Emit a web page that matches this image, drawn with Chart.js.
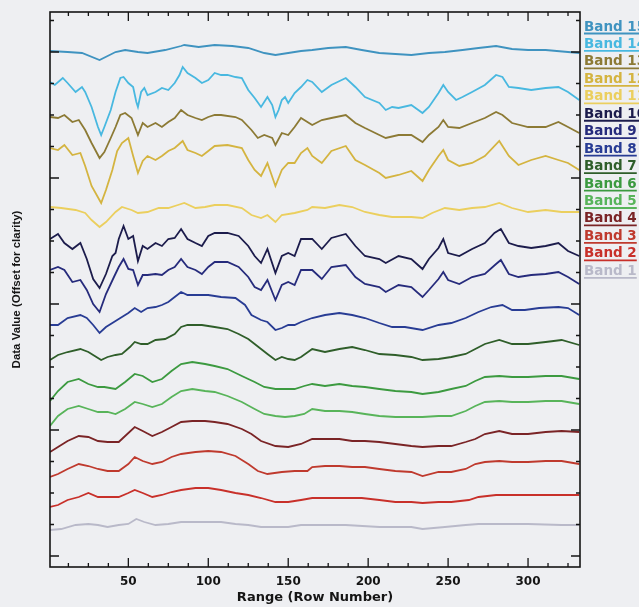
<!DOCTYPE html>
<html>
<head>
<meta charset="utf-8">
<script src="https://cdn.jsdelivr.net/npm/chart.js@4.4.1/dist/chart.umd.min.js"></script>
<style>
  html, body { margin: 0; padding: 0; background: #eeeff2; }
  #wrap { width: 639px; height: 607px; }
</style>
</head>
<body>
<div id="wrap"><canvas id="bandChart" width="639" height="607"></canvas></div>
<script>
// row number vs. data value (already offset per band)
const band1 = [[1,43],[8,44],[17,48],[25,49],[31,48],[37,46],[44,48],[50,49],[55,54],[60,51],[67,48],[75,49],[83,51],[92,51],[100,51],[108,51],[117,49],[125,48],[133,46],[142,46],[150,46],[158,48],[165,48],[186,48],[207,46],[227,46],[234,44],[248,46],[261,48],[269,49],[282,49],[300,49],[321,48],[332,48]];
const band2 = [[1,64],[6,66],[12,71],[19,74],[25,78],[31,74],[37,74],[44,74],[50,78],[54,81],[59,78],[65,74],[71,76],[77,79],[83,81],[92,83],[100,83],[108,81],[117,78],[125,76],[133,73],[142,69],[150,69],[158,71],[165,73],[175,73],[186,73],[196,73],[207,71],[217,69],[227,69],[234,68],[244,69],[252,69],[263,71],[269,74],[280,76],[290,76],[300,76],[311,76],[321,76],[332,76]];
const band3 = [[1,93],[6,96],[12,101],[19,106],[25,104],[31,101],[37,99],[44,99],[50,106],[54,113],[59,109],[65,106],[71,108],[77,113],[83,116],[92,118],[100,119],[108,118],[117,114],[125,106],[131,99],[137,96],[146,98],[154,99],[162,99],[165,103],[173,104],[182,104],[190,103],[198,103],[207,101],[217,99],[227,98],[234,94],[244,98],[252,98],[261,101],[267,106],[273,108],[282,109],[290,108],[300,108],[311,109],[321,109],[332,106]];
const band4 = [[1,118],[6,123],[12,129],[19,134],[25,133],[31,129],[37,128],[44,128],[48,134],[54,143],[59,139],[65,134],[71,138],[77,143],[83,148],[90,149],[98,149],[104,148],[112,146],[121,141],[127,136],[133,129],[142,124],[150,123],[158,126],[165,131],[173,131],[182,131],[190,129],[198,129],[207,128],[217,126],[227,124],[234,123],[244,124],[252,124],[261,128],[267,131],[273,136],[282,139],[290,136],[300,136],[311,138],[321,139],[332,138]];
const band5 = [[1,139],[6,149],[12,156],[19,159],[25,156],[31,153],[37,153],[42,151],[48,156],[54,163],[59,161],[65,158],[71,161],[77,168],[83,174],[90,176],[98,174],[104,173],[112,169],[121,163],[129,156],[135,151],[142,149],[148,148],[154,149],[160,151],[165,156],[173,154],[182,154],[190,153],[198,151],[207,149],[217,148],[227,148],[234,148],[244,149],[252,149],[261,154],[267,159],[273,163],[282,164],[290,163],[300,163],[311,164],[321,164],[332,161]];
const band6 = [[1,164],[6,174],[12,183],[19,186],[25,181],[31,178],[35,178],[42,176],[48,183],[54,191],[59,189],[65,183],[71,186],[77,194],[83,201],[90,203],[98,201],[104,199],[112,196],[121,189],[129,183],[135,178],[142,176],[148,176],[154,176],[160,179],[165,181],[173,179],[182,181],[190,179],[198,178],[207,176],[217,174],[227,173],[234,171],[244,173],[252,176],[261,179],[267,184],[273,188],[282,189],[290,188],[300,188],[311,189],[321,189],[332,186]];
const band7 = [[1,203],[6,208],[12,211],[20,214],[25,211],[30,206],[33,203],[37,206],[42,208],[46,209],[51,216],[54,221],[58,219],[62,219],[67,223],[73,224],[79,229],[83,236],[87,238],[96,238],[104,236],[112,234],[119,229],[125,224],[129,219],[133,214],[137,209],[142,203],[146,206],[150,204],[154,203],[158,206],[165,214],[173,211],[182,214],[190,216],[198,213],[207,209],[217,208],[227,206],[234,203],[244,204],[252,206],[261,209],[267,214],[273,219],[282,223],[290,219],[300,219],[311,221],[321,223],[332,218]];
const band8 = [[1,236],[6,236],[12,243],[20,246],[24,243],[28,236],[32,228],[36,234],[41,239],[45,243],[50,248],[54,253],[58,249],[62,253],[67,254],[71,256],[75,259],[79,264],[83,269],[87,266],[92,266],[100,266],[108,264],[117,263],[123,256],[127,246],[133,241],[137,239],[142,231],[146,233],[150,236],[154,236],[158,239],[165,243],[173,246],[182,248],[190,246],[198,243],[207,238],[215,234],[223,234],[234,231],[244,236],[252,238],[261,243],[269,249],[277,254],[284,256],[290,251],[298,251],[307,253],[319,254],[325,253],[332,246]];
const band9 = [[1,293],[6,296],[10,293],[15,281],[20,283],[24,273],[28,259],[32,251],[36,269],[41,286],[44,296],[47,304],[50,294],[53,293],[56,278],[59,288],[62,288],[67,289],[71,288],[75,293],[79,296],[83,304],[87,296],[92,293],[96,289],[100,296],[104,301],[112,301],[119,296],[125,286],[129,276],[133,273],[137,283],[142,263],[146,278],[150,281],[154,278],[158,293],[165,293],[171,284],[177,296],[186,298],[192,286],[198,279],[207,276],[211,271],[219,278],[227,276],[234,266],[238,273],[244,284],[247,291],[250,283],[257,279],[265,286],[273,289],[280,299],[283,303],[288,289],[294,286],[302,288],[311,289],[319,291],[325,286],[332,279]];
const band10 = [[1,323],[6,328],[10,319],[15,313],[20,319],[24,303],[28,283],[32,274],[36,288],[40,306],[42,309],[44,323],[47,336],[50,323],[53,326],[56,301],[59,316],[62,313],[67,319],[71,316],[75,323],[79,324],[83,333],[87,323],[92,319],[96,316],[100,326],[104,329],[112,329],[119,326],[125,316],[129,306],[133,299],[137,313],[142,289],[146,306],[150,309],[154,306],[158,323],[165,323],[171,313],[177,324],[186,328],[192,316],[198,306],[207,303],[211,299],[219,306],[227,303],[234,293],[238,303],[244,314],[247,323],[250,309],[257,306],[265,313],[273,319],[279,329],[283,333],[288,319],[294,316],[302,314],[311,316],[319,319],[325,311],[332,306]];
const band11 = [[1,354],[8,353],[17,351],[23,348],[27,341],[32,334],[36,339],[42,349],[46,354],[52,351],[56,348],[62,349],[69,353],[75,353],[81,356],[85,358],[92,353],[98,354],[104,356],[112,356],[121,353],[127,346],[133,343],[137,346],[142,339],[146,346],[154,348],[162,351],[165,354],[173,353],[182,356],[190,354],[198,349],[207,346],[215,344],[227,344],[234,343],[240,348],[248,353],[257,351],[265,353],[273,354],[282,358],[290,353],[300,349],[311,351],[321,349],[332,349]];
const band12 = [[1,411],[6,409],[10,414],[15,404],[20,406],[23,393],[27,373],[33,356],[36,369],[40,389],[43,408],[46,416],[50,421],[53,403],[56,386],[59,398],[62,403],[67,399],[71,403],[75,408],[79,411],[84,418],[87,409],[92,406],[96,403],[100,408],[104,413],[112,414],[121,411],[125,399],[129,389],[133,383],[137,396],[142,373],[146,389],[150,396],[154,396],[158,406],[162,411],[165,403],[171,396],[177,408],[186,413],[192,399],[198,394],[207,386],[211,381],[219,384],[227,388],[234,378],[238,389],[244,403],[247,409],[250,399],[257,393],[265,396],[273,403],[282,418],[288,403],[294,394],[302,399],[311,403],[319,399],[325,396],[332,389]];
const band13 = [[1,439],[6,438],[10,441],[15,434],[19,436],[23,426],[27,413],[32,398],[35,404],[39,418],[42,429],[45,441],[48,443],[52,438],[56,421],[59,433],[62,429],[67,433],[71,429],[75,434],[79,438],[83,446],[87,441],[92,438],[96,436],[100,439],[104,441],[108,441],[117,439],[121,436],[127,426],[131,418],[135,421],[140,418],[142,411],[146,423],[150,421],[154,429],[158,438],[165,431],[171,436],[177,438],[186,441],[192,433],[198,428],[207,421],[211,418],[219,421],[227,421],[234,414],[238,421],[244,429],[247,436],[250,429],[257,428],[265,433],[273,438],[280,444],[284,441],[290,433],[300,429],[311,429],[319,434],[325,429],[332,423]];
const band14 = [[1,474],[4,471],[9,478],[12,473],[17,464],[21,469],[23,464],[27,449],[31,429],[33,421],[35,429],[39,446],[42,464],[45,478],[47,479],[50,473],[53,469],[55,454],[56,449],[58,464],[60,468],[62,461],[67,464],[71,468],[75,466],[79,473],[82,481],[84,489],[87,483],[92,478],[96,473],[100,476],[104,483],[108,481],[112,481],[117,479],[121,478],[125,466],[129,458],[133,449],[137,459],[140,451],[142,439],[144,446],[146,456],[148,459],[150,453],[154,463],[158,469],[162,476],[165,474],[171,464],[177,471],[186,478],[192,469],[198,459],[207,453],[211,446],[215,449],[219,448],[227,451],[234,443],[238,449],[244,463],[247,471],[250,464],[255,456],[259,459],[265,464],[273,471],[280,481],[284,479],[288,469],[294,468],[302,466],[311,468],[319,469],[325,464],[332,456]];
const band15 = [[1,505],[12,504],[21,503],[32,496],[42,504],[48,506],[56,504],[62,503],[73,506],[83,510],[85,511],[94,509],[104,511],[115,510],[125,508],[135,503],[142,501],[150,503],[158,505],[165,506],[175,508],[186,509],[196,506],[207,503],[227,501],[238,503],[248,504],[259,506],[269,508],[280,510],[290,507],[300,506],[311,506],[325,504],[332,503]];

const bandSeries = [band1, band2, band3, band4, band5, band6, band7, band8, band9, band10, band11, band12, band13, band14, band15];
const bandNames = ['Band 1', 'Band 2', 'Band 3', 'Band 4', 'Band 5', 'Band 6', 'Band 7', 'Band 8', 'Band 9', 'Band 10', 'Band 11', 'Band 12', 'Band 13', 'Band 14', 'Band 15'];
const bandOffsets = [-17, -15, -14, -14, -9, -9, -7, -5, -7, -6, -5, -3, 0, 0, 0];
const bandColors = ['#b9b9c9', '#c8302a', '#bf3a2e', '#7a2426', '#58b45a', '#3c9a40', '#2f5e2a', '#283c94', '#262b7c', '#1c1c4c', '#ebcf5e', '#d4b440', '#8c7a35', '#48b8e0', '#3f93c0'];

const xTickValues = [50, 100, 150, 200, 250, 300];
const xTitle = 'Range (Row Number)';
const yTitle = 'Data Value (Offset for clarity)';

const bgColor = '#eeeff2';

// paint the page colour behind everything
const background = {
  id: 'background',
  beforeDraw(chart) {
    const ctx = chart.ctx;
    ctx.save();
    ctx.fillStyle = bgColor;
    ctx.fillRect(0, 0, chart.width, chart.height);
    ctx.restore();
  }
};

// box round the plot with inward ticks on all four sides
const frameTicks = {
  id: 'frameTicks',
  afterDatasetsDraw(chart) {
    const { ctx, chartArea: a, scales: { x, y } } = chart;
    ctx.save();
    ctx.strokeStyle = '#151515';
    ctx.lineWidth = 1.6;
    ctx.strokeRect(a.left, a.top, a.right - a.left, a.bottom - a.top);

    ctx.lineWidth = 1.3;
    ctx.beginPath();
    for (let i = 1; i * 12.5 <= x.max; i++) {
      const px = x.getPixelForValue(i * 12.5);
      const len = i % 4 === 0 ? 9 : 4;
      ctx.moveTo(px, a.bottom); ctx.lineTo(px, a.bottom - len);
      ctx.moveTo(px, a.top); ctx.lineTo(px, a.top + len);
    }
    for (let i = 0; i * 31.5 <= y.max; i++) {
      const py = y.getPixelForValue(i * 31.5);
      const len = i % 4 === 0 ? 9 : 4;
      ctx.moveTo(a.left, py); ctx.lineTo(a.left + len, py);
      ctx.moveTo(a.right, py); ctx.lineTo(a.right - len, py);
    }
    ctx.stroke();
    ctx.restore();
  }
};

// coloured, underlined band names to the right of the plot
const bandLegend = {
  id: 'bandLegend',
  afterDraw(chart) {
    const ctx = chart.ctx;
    const sets = chart.data.datasets;
    ctx.save();
    ctx.font = 'bold 13.5px "DejaVu Sans", sans-serif';
    ctx.textBaseline = 'alphabetic';
    sets.forEach((ds, i) => {
      const slot = sets.length - 1 - i;
      const yBase = 30.5 + slot * 17.45;
      const w = ctx.measureText(ds.label).width;
      ctx.fillStyle = ds.borderColor;
      ctx.fillText(ds.label, 584, yBase);
      ctx.strokeStyle = ds.borderColor;
      ctx.lineWidth = 1.8;
      ctx.beginPath();
      ctx.moveTo(584, yBase + 3);
      ctx.lineTo(584 + w, yBase + 3);
      ctx.stroke();
    });
    ctx.restore();
  }
};

const datasets = bandSeries.map((pts, i) => ({
  label: bandNames[i],
  data: pts.map(p => ({ x: p[0], y: p[1] + bandOffsets[i] })),
  borderColor: bandColors[i],
  borderWidth: 1.8,
  pointRadius: 0,
  tension: 0,
  fill: false
}));

new Chart(document.getElementById('bandChart'), {
  type: 'line',
  data: { datasets: datasets },
  options: {
    responsive: false,
    animation: false,
    layout: { padding: { top: 12, right: 59, bottom: 0, left: 0 } },
    plugins: {
      legend: { display: false },
      tooltip: { enabled: false }
    },
    scales: {
      x: {
        type: 'linear',
        min: 1,
        max: 332.5,
        grid: { display: false, drawTicks: false },
        border: { display: false },
        afterBuildTicks: s => { s.ticks = xTickValues.map(v => ({ value: v })); },
        afterFit: s => { s.height = 40; },
        ticks: {
          color: '#151515',
          padding: 8,
          maxRotation: 0,
          autoSkip: false,
          font: { family: 'DejaVu Sans', weight: 'bold', size: 12 }
        },
        title: {
          display: true,
          text: xTitle,
          color: '#151515',
          padding: { top: 0, bottom: 2 },
          font: { family: 'DejaVu Sans', weight: 'bold', size: 13 }
        }
      },
      y: {
        type: 'linear',
        min: -11,
        max: 544,
        grid: { display: false, drawTicks: false },
        border: { display: false },
        ticks: { display: false },
        afterFit: s => { s.width = 50; },
        title: {
          display: true,
          text: yTitle,
          color: '#151515',
          padding: { top: 10, bottom: 0 },
          font: { family: 'Liberation Sans', weight: 'bold', size: 11.5 }
        }
      }
    }
  },
  plugins: [background, frameTicks, bandLegend]
});
</script>
</body>
</html>
